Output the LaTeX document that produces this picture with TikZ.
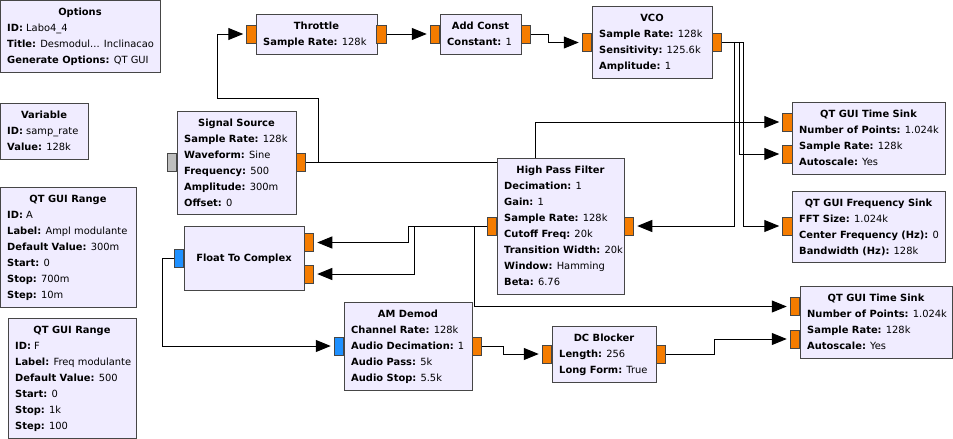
\documentclass[tikz,border=0pt]{standalone}
\usepackage{fontspec}
\setmainfont{DejaVu Sans}
\usetikzlibrary{arrows.meta,calc}
\definecolor{blkfill}{RGB}{240,236,255}
\definecolor{blkline}{RGB}{70,70,70}
\definecolor{fport}{RGB}{245,124,0}
\definecolor{cport}{RGB}{30,144,255}
\definecolor{gport}{RGB}{190,190,190}
\pgfdeclarelayer{bgfill}
\pgfdeclarelayer{wires}
\pgfsetlayers{bgfill,wires,main}
\tikzset{
  blockbox/.style={draw=blkline, fill=blkfill, line width=1pt, inner sep=0pt, outer sep=0pt},
  titletext/.style={font=\fontsize{9.9}{12}\selectfont\bfseries, inner sep=0pt},
  prmtext/.style={font=\fontsize{9.9}{12}\selectfont, inner sep=0pt},
  port/.style={draw=blkline, line width=1pt, minimum width=9.5pt, minimum height=18pt, inner sep=0pt, outer sep=0pt},
  wire/.style={draw=black, line width=1pt},
  arr/.style={-{Triangle[length=15pt,width=12pt]}, shorten >=3.5pt}
}
\newcommand\grcblk[5]{\node[blockbox, minimum width={#4-#2}, minimum height={#5-#3}, anchor=north west] (#1) at (#2,#3) {};}
\newcommand\grctitle[2]{\node[titletext, anchor=base] (#1-t) at ($(#1.north)+(0,15)$) {#2};}
\newcommand\grcprm[4]{\node[prmtext, anchor=base west] (#1-p#2) at ($(#1.north west)+(7,{15+16*#2})$) {\textbf{#3:} #4};}
\newcommand\grcport[4]{\node[port, fill=#2] (#1) at (#3,#4) {};}
\begin{document}
\begin{tikzpicture}[x=1pt,y=-1pt]
\begin{pgfonlayer}{bgfill}
\fill[white] (0,0) rectangle (953,439);
\end{pgfonlayer}
\useasboundingbox (0,0) rectangle (953,439);
% Options
\grcblk{opt}{0}{0}{160}{72}
\grctitle{opt}{Options}
\grcprm{opt}{1}{ID}{Labo4\_4}
\grcprm{opt}{2}{Title}{Desmodul... Inclinacao}
\grcprm{opt}{3}{Generate Options}{QT GUI}
% Variable
\grcblk{var}{0}{103}{88}{159}
\grctitle{var}{Variable}
\grcprm{var}{1}{ID}{samp\_rate}
\grcprm{var}{2}{Value}{128k}
% QT GUI Range A
\grcblk{rga}{0}{187}{136}{307}
\grctitle{rga}{QT GUI Range}
\grcprm{rga}{1}{ID}{A}
\grcprm{rga}{2}{Label}{Ampl modulante}
\grcprm{rga}{3}{Default Value}{300m}
\grcprm{rga}{4}{Start}{0}
\grcprm{rga}{5}{Stop}{700m}
\grcprm{rga}{6}{Step}{10m}
% QT GUI Range F
\grcblk{rgf}{8}{318}{136}{438}
\grctitle{rgf}{QT GUI Range}
\grcprm{rgf}{1}{ID}{F}
\grcprm{rgf}{2}{Label}{Freq modulante}
\grcprm{rgf}{3}{Default Value}{500}
\grcprm{rgf}{4}{Start}{0}
\grcprm{rgf}{5}{Stop}{1k}
\grcprm{rgf}{6}{Step}{100}
% Signal Source
\grcblk{ss}{177}{111}{296}{214}
\grctitle{ss}{Signal Source}
\grcprm{ss}{1}{Sample Rate}{128k}
\grcprm{ss}{2}{Waveform}{Sine}
\grcprm{ss}{3}{Frequency}{500}
\grcprm{ss}{4}{Amplitude}{300m}
\grcprm{ss}{5}{Offset}{0}
\grcport{ss-in}{gport}{172}{162}
\grcport{ss-out}{fport}{301}{162}
% Throttle
\grcblk{thr}{256}{14}{377}{54}
\grctitle{thr}{Throttle}
\grcprm{thr}{1}{Sample Rate}{128k}
\grcport{thr-in}{fport}{251.5}{34}
\grcport{thr-out}{fport}{381.5}{34}
% Add Const
\grcblk{ac}{440}{14}{521}{54}
\grctitle{ac}{Add Const}
\grcprm{ac}{1}{Constant}{1}
\grcport{ac-in}{fport}{435}{34}
\grcport{ac-out}{fport}{526}{34}
% VCO
\grcblk{vco}{592}{6}{712}{78}
\grctitle{vco}{VCO}
\grcprm{vco}{1}{Sample Rate}{128k}
\grcprm{vco}{2}{Sensitivity}{125.6k}
\grcprm{vco}{3}{Amplitude}{1}
\grcport{vco-in}{fport}{587}{42.5}
\grcport{vco-out}{fport}{717}{42.5}
% QT GUI Time Sink 1
\grcblk{ts1}{792}{102}{945}{174}
\grctitle{ts1}{QT GUI Time Sink}
\grcprm{ts1}{1}{Number of Points}{1.024k}
\grcprm{ts1}{2}{Sample Rate}{128k}
\grcprm{ts1}{3}{Autoscale}{Yes}
\grcport{ts1-in0}{fport}{787.5}{122}
\grcport{ts1-in1}{fport}{787.5}{154}
% QT GUI Frequency Sink
\grcblk{fs}{792}{191}{945}{262}
\grctitle{fs}{QT GUI Frequency Sink}
\grcprm{fs}{1}{FFT Size}{1.024k}
\grcprm{fs}{2}{Center Frequency (Hz)}{0}
\grcprm{fs}{3}{Bandwidth (Hz)}{128k}
\grcport{fs-in}{fport}{787.5}{226}
% High Pass Filter
\grcblk{hpf}{497}{158}{624}{294}
\grctitle{hpf}{High Pass Filter}
\grcprm{hpf}{1}{Decimation}{1}
\grcprm{hpf}{2}{Gain}{1}
\grcprm{hpf}{3}{Sample Rate}{128k}
\grcprm{hpf}{4}{Cutoff Freq}{20k}
\grcprm{hpf}{5}{Transition Width}{20k}
\grcprm{hpf}{6}{Window}{Hamming}
\grcprm{hpf}{7}{Beta}{6.76}
\grcport{hpf-in}{fport}{629}{226}
\grcport{hpf-out}{fport}{492}{226}
% Float To Complex
\grcblk{ftc}{184}{226}{304}{290}
\node[titletext, anchor=base] (ftc-t) at ($(ftc.center)+(0,3.5)$) {Float To Complex};
\grcport{ftc-out}{cport}{179}{258}
\grcport{ftc-in0}{fport}{309}{242.5}
\grcport{ftc-in1}{fport}{309}{274}
% AM Demod
\grcblk{am}{344}{302}{472}{390}
\grctitle{am}{AM Demod}
\grcprm{am}{1}{Channel Rate}{128k}
\grcprm{am}{2}{Audio Decimation}{1}
\grcprm{am}{3}{Audio Pass}{5k}
\grcprm{am}{4}{Audio Stop}{5.5k}
\grcport{am-in}{cport}{339}{346}
\grcport{am-out}{fport}{477}{346}
% DC Blocker
\grcblk{dc}{552}{326}{656}{382}
\grctitle{dc}{DC Blocker}
\grcprm{dc}{1}{Length}{256}
\grcprm{dc}{2}{Long Form}{True}
\grcport{dc-in}{fport}{547}{354}
\grcport{dc-out}{fport}{661}{354}
% QT GUI Time Sink 2
\grcblk{ts2}{800}{286}{952}{358}
\grctitle{ts2}{QT GUI Time Sink}
\grcprm{ts2}{1}{Number of Points}{1.024k}
\grcprm{ts2}{2}{Sample Rate}{128k}
\grcprm{ts2}{3}{Autoscale}{Yes}
\grcport{ts2-in0}{fport}{795}{306.5}
\grcport{ts2-in1}{fport}{795}{339}
% wires
\begin{pgfonlayer}{wires}
\draw[wire,arr] (ss-out.east) -| (318,98) -| (217,34) -- (thr-in.west);
\draw[wire,arr] (ss-out.east) -- (535,162) |- (ts1-in0.west);
\draw[wire,arr] (thr-out.east) -- (ac-in.west);
\draw[wire,arr] (ac-out.east) -- (548,34) |- (vco-in.west);
\draw[wire,arr] (vco-out.east) -- (734,42.5) |- (hpf-in.east);
\draw[wire,arr] (vco-out.east) -- (739,42.5) |- (ts1-in1.west);
\draw[wire,arr] (vco-out.east) -- (743,42.5) |- (fs-in.west);
\draw[wire,arr] (hpf-out.west) -- (408,226) |- (ftc-in0.east);
\draw[wire,arr] (hpf-out.west) -- (414,226) |- (ftc-in1.east);
\draw[wire,arr] (hpf-out.west) -- (474,226) |- (ts2-in0.west);
\draw[wire,arr] (ftc-out.west) -- (162,258) |- (am-in.west);
\draw[wire,arr] (am-out.east) -- (503,346) |- (dc-in.west);
\draw[wire,arr] (dc-out.east) -- (714,354) |- (ts2-in1.west);
\end{pgfonlayer}
\end{tikzpicture}
\end{document}
